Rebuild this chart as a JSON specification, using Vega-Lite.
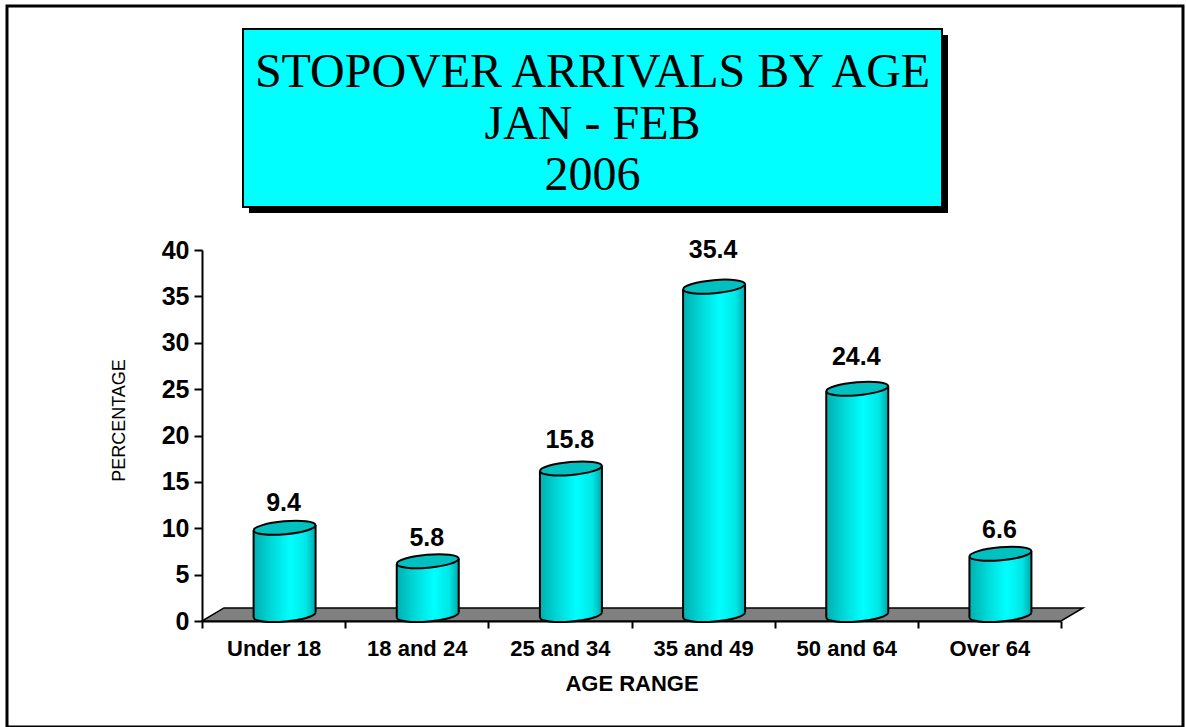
{
  "$schema": "https://vega.github.io/schema/vega-lite/v6.json",
  "width": 1176,
  "height": 721,
  "autosize": {"type": "none"},
  "padding": {"left": 7, "top": 6, "right": 3, "bottom": 0},
  "background": "white",
  "config": {
    "view": {"stroke": "black", "strokeWidth": 3},
    "axis": {"domainColor": "black", "domainWidth": 2, "tickColor": "black", "tickWidth": 2, "labelColor": "black", "titleColor": "black", "grid": false, "labelFont": "Liberation Sans", "titleFont": "Liberation Sans"}
  },
  "datasets": {
    "ages": [
      {"age": "Under 18", "pct": 9.4},
      {"age": "18 and 24", "pct": 5.8},
      {"age": "25 and 34", "pct": 15.8},
      {"age": "35 and 49", "pct": 35.4},
      {"age": "50 and 64", "pct": 24.4},
      {"age": "Over 64", "pct": 6.6}
    ],
    "heading": [{"box": "heading", "text": "STOPOVER ARRIVALS BY AGE\nJAN - FEB\n2006"}]
  },
  "layer": [
    {
      "encoding": {
        "x": {
          "field": "age", "type": "nominal", "sort": null,
          "scale": {"type": "band", "domain": ["Under 18", "18 and 24", "25 and 34", "35 and 49", "50 and 64", "Over 64"], "range": [195, 1054], "paddingInner": 0, "paddingOuter": 0},
          "axis": {"orient": "bottom", "offset": -106, "tickBand": "extent", "tickSize": 7, "labelAngle": 0, "labelFontSize": 22, "labelFontWeight": "bold", "labelPadding": 10, "labelOverlap": false, "title": "AGE RANGE", "titleFontSize": 22, "titleFontWeight": "bold", "titlePadding": 14}
        }
      },
      "layer": [
        {
          "encoding": {
            "y": {
              "field": "pct", "type": "quantitative",
              "scale": {"domain": [0, 40], "range": [615, 244], "nice": false},
              "axis": {"orient": "left", "offset": -195, "values": [0, 5, 10, 15, 20, 25, 30, 35, 40], "tickSize": 8, "labelFontSize": 25, "labelFontWeight": "bold", "labelPadding": 5, "labelFlush": false, "title": "PERCENTAGE", "titleFontSize": 18, "titleFontWeight": "normal", "titleX": -74, "titleY": 414}
            }
          },
          "layer": [
            {
              "data": {"name": "ages"},
              "transform": [{"filter": "datum.age === 'Under 18'"}],
              "mark": {"type": "point", "shape": "M -1 0 L 11 0 L 11.307 -0.182 L -0.693 -0.182 Z", "size": 20498, "filled": true, "fill": "#808080", "stroke": "black", "strokeWidth": 1.5, "opacity": 1},
              "encoding": {"y": {"datum": 0}}
            },
            {
              "data": {"name": "ages"},
              "mark": {"type": "bar", "width": 62, "xOffset": 11, "yOffset": -6, "y2Offset": -6,
                "fill": {"gradient": "linear", "x1": 0, "y1": 0, "x2": 1, "y2": 0, "stops": [
                  {"offset": 0, "color": "#00B0B0"}, {"offset": 0.3, "color": "#00DADA"}, {"offset": 0.6, "color": "#00FFFF"}, {"offset": 0.85, "color": "#00E6E6"}, {"offset": 1, "color": "#00A8A8"}]}}
            },
            {
              "data": {"name": "ages"},
              "mark": {"type": "point", "shape": "M -0.9962 0.0872 A 1 0.21 -5 1 1 0.9962 -0.0872 A 1 0.21 -5 1 1 -0.9962 0.0872 Z", "size": 3844, "filled": true, "strokeWidth": 0, "opacity": 1, "xOffset": 11, "yOffset": -6,
                "fill": {"gradient": "linear", "x1": 0, "y1": 0, "x2": 1, "y2": 0, "stops": [
                  {"offset": 0, "color": "#00B0B0"}, {"offset": 0.3, "color": "#00DADA"}, {"offset": 0.6, "color": "#00FFFF"}, {"offset": 0.85, "color": "#00E6E6"}, {"offset": 1, "color": "#00A8A8"}]}},
              "encoding": {"y": {"datum": 0}}
            },
            {
              "data": {"name": "ages"},
              "mark": {"type": "point", "shape": "M -0.9962 0.0872 A 1 0.21 -5 0 0 0.9962 -0.0872", "size": 3844, "filled": false, "stroke": "black", "strokeWidth": 2, "opacity": 1, "xOffset": 11, "yOffset": -6},
              "encoding": {"y": {"datum": 0}}
            },
            {
              "data": {"name": "ages"},
              "mark": {"type": "rule", "stroke": "black", "strokeWidth": 2, "xOffset": -20, "yOffset": -3.3, "y2Offset": -3.3},
              "encoding": {"y2": {"datum": 0}}
            },
            {
              "data": {"name": "ages"},
              "mark": {"type": "rule", "stroke": "black", "strokeWidth": 2, "xOffset": 42, "yOffset": -8.7, "y2Offset": -8.7},
              "encoding": {"y2": {"datum": 0}}
            },
            {
              "data": {"name": "ages"},
              "mark": {"type": "point", "shape": "M -0.9962 0.0872 A 1 0.21 -5 1 1 0.9962 -0.0872 A 1 0.21 -5 1 1 -0.9962 0.0872 Z", "size": 3844, "filled": true, "fill": "#00C0C0", "stroke": "black", "strokeWidth": 2, "opacity": 1, "xOffset": 11, "yOffset": -6}
            }
          ]
        },
        {
          "data": {"name": "ages"},
          "mark": {"type": "text", "font": "Liberation Sans", "fontWeight": "bold", "fontSize": 25, "baseline": "middle", "align": "center", "xOffset": 10, "color": "black"},
          "encoding": {
            "y": {"field": "pct", "type": "quantitative", "scale": {"domain": [0, 40], "range": [588, 199], "nice": false}, "axis": null},
            "text": {"field": "pct", "type": "quantitative", "format": ".1f"}
          }
        }
      ],
      "resolve": {"scale": {"y": "independent"}}
    },
    {
      "data": {"name": "heading"},
      "encoding": {
        "x": {"field": "box", "type": "nominal", "scale": {"type": "band", "range": [236, 935], "paddingInner": 0, "paddingOuter": 0}, "axis": null},
        "y": {"field": "box", "type": "nominal", "scale": {"type": "band", "range": [23, 201], "paddingInner": 0, "paddingOuter": 0}, "axis": null}
      },
      "layer": [
        {"mark": {"type": "rect", "fill": "black", "xOffset": 6, "x2Offset": 6, "yOffset": 6, "y2Offset": 6}},
        {"mark": {"type": "rect", "fill": "#00FFFF", "stroke": "black", "strokeWidth": 2}},
        {
          "mark": {"type": "text", "font": "Liberation Serif", "fontSize": 48, "lineHeight": 51.5, "lineBreak": "\n", "baseline": "middle", "align": "center", "dy": -45, "color": "black"},
          "encoding": {"text": {"field": "text"}}
        }
      ]
    }
  ],
  "resolve": {"scale": {"x": "independent", "y": "independent"}}
}
